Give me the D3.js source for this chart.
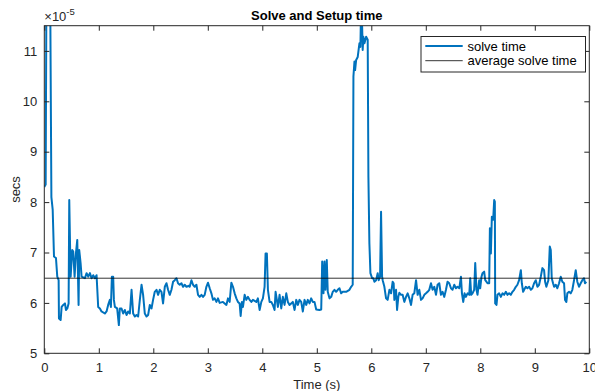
<!DOCTYPE html>
<html>
<head>
<meta charset="utf-8">
<script src="https://cdn.jsdelivr.net/npm/d3@7"></script>
<style>
  html, body { margin: 0; padding: 0; background: #fff; }
  svg { display: block; font-family: "Liberation Sans", Arial, Helvetica, sans-serif; }
</style>
</head>
<body>
<svg id="chart" width="595" height="391"></svg>
<script>
// ---- data (solve time in units of 1e-5 s) ----
const times = [
  0, 0.025, 0.04, 0.08, 0.11, 0.13, 0.154, 0.178, 0.214, 0.238, 0.263, 0.269, 0.300, 0.318, 0.348, 0.379, 0.397, 0.422, 0.446, 0.458,
  0.483, 0.513, 0.531, 0.556, 0.580, 0.605, 0.629, 0.641, 0.666, 0.684, 0.745, 0.776, 0.806, 0.837, 0.867, 0.898, 0.928, 0.959, 0.989, 1.020,
  1.050, 1.111, 1.142, 1.172, 1.203, 1.222, 1.240, 1.264, 1.277, 1.295, 1.337, 1.368, 1.386, 1.417, 1.447, 1.478, 1.509, 1.538, 1.570, 1.601,
  1.630, 1.661, 1.692, 1.722, 1.753, 1.784, 1.813, 1.844, 1.875, 1.905, 1.936, 1.967, 1.996, 2.027, 2.059, 2.088, 2.119, 2.150, 2.179, 2.211,
  2.242, 2.271, 2.302, 2.333, 2.363, 2.394, 2.425, 2.454, 2.485, 2.516, 2.546, 2.577, 2.608, 2.656, 2.668, 2.700, 2.729, 2.760, 2.791, 2.821,
  2.852, 2.883, 2.912, 2.943, 2.974, 3.004, 3.035, 3.066, 3.095, 3.126, 3.158, 3.187, 3.218, 3.278, 3.341, 3.370, 3.401, 3.432, 3.462, 3.493,
  3.524, 3.553, 3.584, 3.603, 3.626, 3.645, 3.676, 3.707, 3.736, 3.767, 3.799, 3.828, 3.890, 3.919, 3.951, 3.982, 4.011, 4.042, 4.060, 4.084,
  4.103, 4.134, 4.165, 4.194, 4.225, 4.244, 4.267, 4.286, 4.317, 4.348, 4.377, 4.408, 4.440, 4.469, 4.500, 4.560, 4.592, 4.623, 4.652, 4.683,
  4.714, 4.744, 4.775, 4.806, 4.835, 4.866, 4.897, 4.927, 4.958, 4.989, 5.049, 5.081, 5.099, 5.123, 5.141, 5.159, 5.183, 5.201, 5.233, 5.264,
  5.293, 5.324, 5.355, 5.385, 5.416, 5.447, 5.476, 5.538, 5.599, 5.630, 5.659, 5.672, 5.691, 5.703, 5.722, 5.751, 5.782, 5.800, 5.813, 5.832,
  5.842, 5.855, 5.874, 5.892, 5.905, 5.934, 5.947, 5.965, 5.984, 6.015, 6.038, 6.057, 6.088, 6.117, 6.136, 6.161, 6.179, 6.198, 6.209, 6.240,
  6.271, 6.300, 6.332, 6.363, 6.392, 6.410, 6.423, 6.454, 6.473, 6.496, 6.515, 6.546, 6.575, 6.606, 6.637, 6.667, 6.698, 6.729, 6.758, 6.789,
  6.821, 6.850, 6.881, 6.912, 6.941, 6.973, 7.004, 7.033, 7.064, 7.095, 7.125, 7.156, 7.187, 7.216, 7.247, 7.278, 7.308, 7.339, 7.370, 7.399,
  7.430, 7.462, 7.491, 7.522, 7.553, 7.582, 7.614, 7.645, 7.663, 7.687, 7.711, 7.736, 7.766, 7.797, 7.815, 7.833, 7.857, 7.888, 7.907, 7.930,
  7.949, 7.980, 7.998, 8.022, 8.040, 8.071, 8.090, 8.114, 8.132, 8.163, 8.176, 8.194, 8.212, 8.236, 8.255, 8.267, 8.273, 8.297, 8.315, 8.346,
  8.377, 8.407, 8.438, 8.469, 8.498, 8.529, 8.560, 8.590, 8.621, 8.652, 8.681, 8.712, 8.744, 8.762, 8.786, 8.804, 8.835, 8.864, 8.896, 8.927,
  8.956, 8.987, 9.018, 9.048, 9.079, 9.110, 9.139, 9.170, 9.189, 9.212, 9.249, 9.275, 9.293, 9.311, 9.335, 9.354, 9.385, 9.414, 9.445, 9.476,
  9.505, 9.537, 9.555, 9.579, 9.597, 9.628, 9.659, 9.689, 9.720, 9.751, 9.780, 9.811, 9.842, 9.872, 9.903, 9.921, 9.945
];
const solveTime = [
  8.30, 8.35, 12.5, 13.0, 11.8, 8.10, 7.85, 6.92, 6.89, 6.52, 6.45, 5.69, 5.66, 5.92, 5.96, 5.99, 5.86, 5.89, 5.99, 8.04,
  6.52, 7.05, 7.02, 6.52, 6.98, 7.25, 5.96, 7.05, 6.79, 6.52, 6.49, 6.59, 6.52, 6.59, 6.49, 6.55, 6.49, 6.55, 5.92, 5.89,
  5.83, 5.79, 5.83, 5.96, 6.06, 5.92, 6.52, 6.52, 6.06, 5.92, 5.89, 5.56, 5.89, 5.89, 5.79, 5.86, 5.76, 5.83, 5.79, 6.26,
  5.79, 5.73, 5.76, 5.73, 6.06, 6.36, 6.16, 5.79, 5.73, 5.76, 5.96, 5.89, 6.06, 6.22, 6.26, 6.16, 6.26, 6.22, 5.99, 6.32,
  6.39, 6.26, 6.16, 6.26, 6.42, 6.45, 6.49, 6.39, 6.36, 6.39, 6.32, 6.36, 6.32, 6.34, 6.32, 6.45, 6.36, 6.32, 6.36, 6.16,
  6.12, 6.16, 6.12, 6.16, 6.32, 6.40, 6.29, 6.19, 6.06, 6.09, 6.02, 6.09, 6.00, 6.02, 5.96, 6.09, 6.02, 6.40, 6.32, 6.19,
  6.09, 6.02, 5.99, 5.74, 6.02, 5.92, 6.16, 6.06, 6.12, 6.06, 6.02, 6.06, 6.02, 6.09, 5.86, 6.02, 6.09, 6.32, 6.98, 6.98,
  6.26, 6.02, 6.02, 5.96, 5.86, 6.22, 6.06, 5.92, 6.16, 5.89, 6.12, 5.96, 6.19, 6.02, 5.96, 6.02, 5.86, 6.06, 5.96, 6.06,
  6.02, 5.83, 6.06, 5.96, 6.06, 5.99, 6.09, 6.02, 6.02, 5.87, 5.86, 5.87, 6.82, 6.19, 6.82, 6.26, 6.85, 6.22, 6.09, 6.12,
  6.22, 6.26, 6.22, 6.26, 6.29, 6.19, 6.22, 6.22, 6.26, 6.32, 6.36, 10.49, 10.79, 10.62, 10.82, 10.88, 11.15, 11.08, 11.9, 11.48,
  11.02, 11.28, 11.15, 11.22, 11.28, 11.22, 8.50, 7.18, 6.59, 6.49, 6.49, 6.42, 6.45, 6.59, 6.45, 6.52, 7.81, 6.52, 6.45, 6.32,
  6.09, 6.06, 6.26, 6.19, 6.42, 6.39, 6.06, 6.26, 5.86, 6.12, 6.20, 6.16, 6.16, 6.02, 6.12, 6.19, 6.09, 5.96, 6.16, 6.19,
  6.45, 6.16, 6.26, 6.06, 6.09, 6.16, 6.19, 6.22, 6.26, 6.39, 6.26, 6.32, 6.16, 6.36, 6.39, 6.16, 6.22, 6.12, 6.26, 6.42,
  6.39, 6.29, 6.26, 6.36, 6.29, 6.32, 6.29, 6.52, 6.19, 6.02, 6.19, 6.12, 6.19, 6.16, 6.49, 6.16, 6.19, 6.26, 6.79, 6.26,
  6.16, 6.45, 6.29, 6.52, 6.59, 6.62, 6.45, 6.42, 6.39, 6.39, 7.48, 6.98, 7.71, 7.65, 8.04, 8.01, 5.99, 5.96, 6.16, 6.19,
  6.12, 6.19, 6.16, 6.22, 6.16, 6.19, 6.16, 6.22, 6.26, 6.32, 6.36, 6.45, 6.65, 6.39, 6.22, 6.26, 6.32, 6.29, 6.32, 6.26,
  6.29, 6.39, 6.45, 6.32, 6.36, 6.52, 6.69, 6.65, 6.42, 6.32, 6.45, 7.12, 7.05, 6.49, 6.39, 6.32, 6.36, 6.29, 6.39, 6.52,
  6.42, 6.39, 6.06, 6.02, 6.19, 6.22, 6.19, 6.26, 6.45, 6.65, 6.42, 6.32, 6.39, 6.45, 6.49, 6.39, 6.42
];
const averageSolveTime = 6.49;
const xTicks = [0, 1, 2, 3, 4, 5, 6, 7, 8, 9, 10];
const yTicks = [5, 6, 7, 8, 9, 10, 11];
const xDomain = [0, 10];
const yDomain = [5, 11.5];
const legendLabels = ["solve time", "average solve time"];
const titleText = "Solve and Setup time";
const xLabelText = "Time (s)";
const yLabelText = "secs";

// ---- layout ----
const svg = d3.select("#chart");
const pLeft = 44.3, pRight = 589.3, pTop = 25.7, pBottom = 353.3;
const axisColor = "#262626";
const blue = "#0072BD";
const FONT = 13;

const x = d3.scaleLinear().domain(xDomain).range([pLeft, pRight]);
const y = d3.scaleLinear().domain(yDomain).range([pBottom, pTop]);

svg.append("defs").append("clipPath").attr("id", "clip")
  .append("rect").attr("x", pLeft).attr("y", pTop).attr("width", pRight - pLeft).attr("height", pBottom - pTop);

// data line
const pts = times.map((t, i) => [t, solveTime[i]]);
svg.append("path")
  .datum(pts)
  .attr("clip-path", "url(#clip)")
  .attr("fill", "none")
  .attr("stroke", blue)
  .attr("stroke-width", 2)
  .attr("stroke-linejoin", "round")
  .attr("d", d3.line().x(d => x(d[0])).y(d => y(d[1])));

// average line
svg.append("line")
  .attr("x1", x(xDomain[0])).attr("x2", x(xDomain[1]))
  .attr("y1", y(averageSolveTime)).attr("y2", y(averageSolveTime))
  .attr("stroke", "#000").attr("stroke-width", 0.8);

// axes
function styleAxis(g, showLabels) {
  g.select(".domain").remove();
  g.selectAll(".tick line").attr("stroke", axisColor).attr("stroke-width", 1);
  g.selectAll(".tick text").attr("fill", axisColor).attr("font-size", FONT)
    .attr("font-family", "Liberation Sans, Arial, sans-serif")
    .style("display", showLabels ? null : "none");
}
svg.append("g").attr("transform", `translate(0,${pBottom})`)
  .call(d3.axisBottom(x).tickValues(xTicks).tickFormat(d3.format("d")).tickSizeInner(-5).tickSizeOuter(0).tickPadding(9))
  .call(g => styleAxis(g, true));
svg.append("g").attr("transform", `translate(0,${pTop})`)
  .call(d3.axisTop(x).tickValues(xTicks).tickSizeInner(-5).tickSizeOuter(0))
  .call(g => styleAxis(g, false));
svg.append("g").attr("transform", `translate(${pLeft},0)`)
  .call(d3.axisLeft(y).tickValues(yTicks).tickFormat(d3.format("d")).tickSizeInner(-5).tickSizeOuter(0).tickPadding(7))
  .call(g => styleAxis(g, true));
svg.append("g").attr("transform", `translate(${pRight},0)`)
  .call(d3.axisRight(y).tickValues(yTicks).tickSizeInner(-5).tickSizeOuter(0))
  .call(g => styleAxis(g, false));

// box
svg.append("rect").attr("x", pLeft).attr("y", pTop).attr("width", pRight - pLeft).attr("height", pBottom - pTop)
  .attr("fill", "none").attr("stroke", axisColor).attr("stroke-width", 1);

// exponent label
const ex = svg.append("text").attr("x", pLeft).attr("y", 21).attr("fill", axisColor).attr("font-size", FONT);
ex.append("tspan").text("\u00d710");
ex.append("tspan").attr("font-size", 9.5).attr("dy", -6).text("-5");

// title
svg.append("text").attr("x", (pLeft + pRight) / 2).attr("y", 19.5).attr("text-anchor", "middle")
  .attr("font-weight", "bold").attr("font-size", 13).attr("fill", "#000").text(titleText);

// axis labels
svg.append("text").attr("x", (pLeft + pRight) / 2).attr("y", 388.5).attr("text-anchor", "middle")
  .attr("font-size", FONT).attr("fill", axisColor).text(xLabelText);
svg.append("text").attr("transform", `translate(19.5,${(pTop + pBottom) / 2}) rotate(-90)`)
  .attr("text-anchor", "middle").attr("font-size", FONT).attr("fill", axisColor).text(yLabelText);

// legend
const lg = svg.append("g");
lg.append("rect").attr("x", 421).attr("y", 36.5).attr("width", 164.5).attr("height", 35.5)
  .attr("fill", "#fff").attr("stroke", axisColor).attr("stroke-width", 1);
const legendStyles = [{ c: blue, w: 2 }, { c: "#000", w: 0.8 }];
legendLabels.forEach((lab, i) => {
  const yy = 46 + i * 14.7;
  lg.append("line").attr("x1", 425.3).attr("x2", 462.7).attr("y1", yy).attr("y2", yy)
    .attr("stroke", legendStyles[i].c).attr("stroke-width", legendStyles[i].w);
  lg.append("text").attr("x", 467.5).attr("y", yy + 4.6).attr("font-size", FONT).attr("fill", "#000").text(lab);
});
</script>
</body>
</html>
